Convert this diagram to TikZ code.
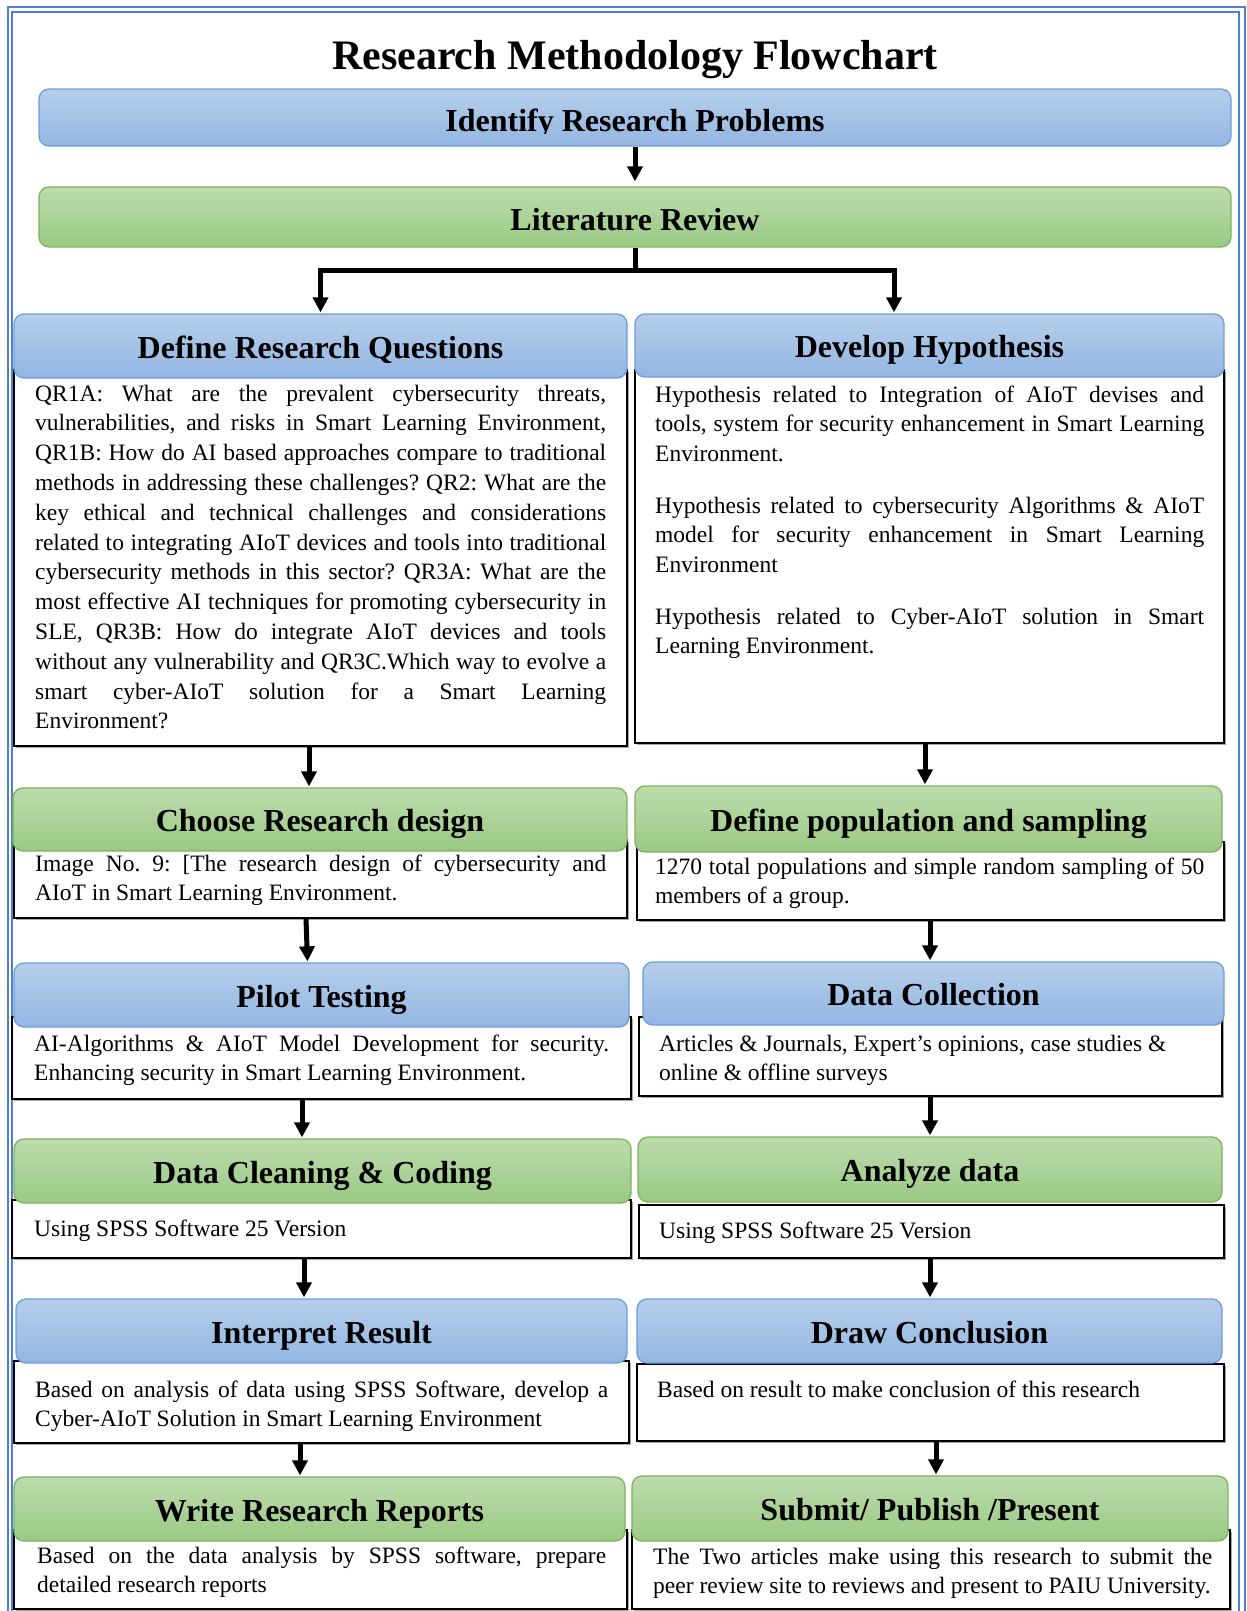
\documentclass[tikz,border=0pt]{standalone}
\usepackage{fontspec}
\setmainfont{Liberation Serif}
\usetikzlibrary{arrows.meta,shadows}

\definecolor{blueTop}{HTML}{B6CEEB}
\definecolor{blueBot}{HTML}{93B6E2}
\definecolor{blueEdge}{HTML}{6A9FDB}
\definecolor{greenTop}{HTML}{BCDCAC}
\definecolor{greenBot}{HTML}{9BC985}
\definecolor{greenEdge}{HTML}{7DB35B}
\definecolor{frameBlue}{HTML}{4F7FD0}

\frenchspacing

% one justified line / one free line of a text block
\newcommand{\JLine}[1]{\makebox[\linewidth][s]{#1}\par}
\newcommand{\LLine}[1]{\mbox{#1}\par}

\tikzset{
  hdr/.style={rounded corners=10pt, line width=1.3pt, inner sep=0pt,
    text height=24pt, text depth=0pt,
    font=\fontsize{32}{36}\selectfont\bfseries},
  hdrblue/.style={hdr, draw=blueEdge, top color=blueTop, bottom color=blueBot},
  hdrgreen/.style={hdr, draw=greenEdge, top color=greenTop, bottom color=greenBot},
  txtbox/.style={draw=black, line width=1.8pt, fill=white, inner sep=0pt,
    drop shadow={shadow xshift=2pt, shadow yshift=-2pt, fill=black!35, opacity=1}},
  body/.style={anchor=base west, inner sep=0pt, font=\fontsize{23.5}{29.8}\selectfont\frenchspacing},
  arr/.style={line width=5pt, -{Triangle[width=15pt,length=15pt]}, shorten >=1pt},
  stem/.style={line width=5pt},
}

\begin{document}
\begin{tikzpicture}[x=1pt,y=-1pt]
\useasboundingbox (0,0) rectangle (1247,1611);

% page frame
\draw[frameBlue, line width=1.5pt] (8,7) rectangle (1245,1660);
\draw[frameBlue, line width=1.2pt] (12,12) rectangle (1239,1660);

\node[font=\fontsize{42}{48}\selectfont\bfseries, anchor=base, inner sep=0pt] (title)
  at (635,70) {Research Methodology Flowchart};

% top row
\node[hdrblue, minimum width=1192pt, minimum height=57pt] (idp) at (635,117.5) {};
\begin{scope}
  \clip (39,89) rectangle (1231,133.5);
  \node[font=\fontsize{32}{36}\selectfont\bfseries, anchor=base, inner sep=0pt] (idpText)
    at (635,131.5) {Identify Research Problems};
\end{scope}
\node[hdrgreen, text height=26pt, minimum width=1192pt, minimum height=60pt] (lit) at (635,217) {Literature Review};

% text boxes (drawn below their headers)
\node[txtbox, minimum width=613pt, minimum height=376pt] (drqT) at (320.5,558) {};
\node[txtbox, minimum width=589pt, minimum height=373pt] (dhT) at (929.5,556.5) {};
\node[txtbox, minimum width=613pt, minimum height=78pt] (crdT) at (320.5,879) {};
\node[txtbox, minimum width=587pt, minimum height=78pt] (dpsT) at (930.5,881) {};
\node[txtbox, minimum width=619pt, minimum height=82pt] (ptT) at (321.5,1058) {};
\node[txtbox, minimum width=583pt, minimum height=79pt] (dcT) at (930.5,1056.5) {};
\node[txtbox, minimum width=619pt, minimum height=58pt] (dccT) at (321.5,1229) {};
\node[txtbox, minimum width=585pt, minimum height=53pt] (adT) at (931.5,1231.5) {};
\node[txtbox, minimum width=615pt, minimum height=82pt] (irT) at (321.5,1402) {};
\node[txtbox, minimum width=587pt, minimum height=77pt] (dconT) at (930.5,1402.5) {};
\node[txtbox, minimum width=613pt, minimum height=79pt] (wrrT) at (320.5,1569.5) {};
\node[txtbox, minimum width=598pt, minimum height=79pt] (sppT) at (931,1569.5) {};

% headers
\node[hdrblue, minimum width=613pt, minimum height=64pt] (drq) at (320.5,346) {Define Research Questions};
\node[hdrblue, minimum width=589pt, minimum height=63pt] (dh) at (929.5,345.5) {Develop Hypothesis};
\node[hdrgreen, minimum width=614pt, minimum height=63pt] (crd) at (320,819.5) {Choose Research design};
\node[hdrgreen, minimum width=587pt, minimum height=66pt] (dps) at (928.5,819) {Define population and sampling};
\node[hdrblue, minimum width=615pt, minimum height=64pt] (pt) at (321.5,995) {Pilot Testing};
\node[hdrblue, minimum width=581pt, minimum height=63pt] (dc) at (933.5,993.5) {Data Collection};
\node[hdrgreen, minimum width=617pt, minimum height=64pt] (dcc) at (322.5,1171) {Data Cleaning \& Coding};
\node[hdrgreen, minimum width=584pt, minimum height=65pt] (ad) at (930,1169.5) {Analyze data};
\node[hdrblue, minimum width=611pt, minimum height=64pt] (ir) at (321.5,1331) {Interpret Result};
\node[hdrblue, minimum width=585pt, minimum height=64pt] (dcon) at (929.5,1331) {Draw Conclusion};
\node[hdrgreen, minimum width=611pt, minimum height=64pt] (wrr) at (319.5,1509) {Write Research Reports};
\node[hdrgreen, minimum width=596pt, minimum height=65pt] (spp) at (930,1508.5) {Submit/ Publish /Present};

% box contents
\node[body] (drqText) at (35,401) {\parbox[t]{571pt}{%
\JLine{QR1A: What are the prevalent cybersecurity threats,}
\JLine{vulnerabilities, and risks in Smart Learning Environment,}
\JLine{QR1B: How do AI based approaches compare to traditional}
\JLine{methods in addressing these challenges? QR2: What are the}
\JLine{key ethical and technical challenges and considerations}
\JLine{related to integrating AIoT devices and tools into traditional}
\JLine{cybersecurity methods in this sector? QR3A: What are the}
\JLine{most effective AI techniques for promoting cybersecurity in}
\JLine{SLE, QR3B: How do integrate AIoT devices and tools}
\JLine{without any vulnerability and QR3C.Which way to evolve a}
\JLine{smart cyber-AIoT solution for a Smart Learning}
\LLine{Environment?}}};

\node[body] (dhText) at (655,402) {\parbox[t]{549pt}{%
\JLine{Hypothesis related to Integration of AIoT devises and}
\JLine{tools, system for security enhancement in Smart Learning}
\LLine{Environment.}
\vspace{21.6pt}
\JLine{Hypothesis related to cybersecurity Algorithms \& AIoT}
\JLine{model for security enhancement in Smart Learning}
\LLine{Environment}
\vspace{21.6pt}
\JLine{Hypothesis related to Cyber-AIoT solution in Smart}
\LLine{Learning Environment.}}};

\node[body] (crdText) at (35,871) {\parbox[t]{571pt}{%
\JLine{Image No. 9: [The research design of cybersecurity and}
\LLine{AIoT in Smart Learning Environment.}}};

\node[body] (dpsText) at (655,874) {\parbox[t]{549pt}{%
\JLine{1270 total populations and simple random sampling of 50}
\LLine{members of a group.}}};

\node[body] (ptText) at (34,1051) {\parbox[t]{575pt}{%
\JLine{AI-Algorithms \& AIoT Model Development for security.}
\LLine{Enhancing security in Smart Learning Environment.}}};

\node[body] (dcText) at (659,1051) {\parbox[t]{545pt}{%
\LLine{Articles \& Journals, Expert’s opinions, case studies \&}
\LLine{online \& offline surveys}}};

\node[body] (dccText) at (34,1236) {Using SPSS Software 25 Version};
\node[body] (adText) at (659,1238) {Using SPSS Software 25 Version};

\node[body] (irText) at (35,1397) {\parbox[t]{573pt}{%
\JLine{Based on analysis of data using SPSS Software, develop a}
\LLine{Cyber-AIoT Solution in Smart Learning Environment}}};

\node[body] (dconText) at (657,1397) {Based on result to make conclusion of this research};

\node[body] (wrrText) at (37,1563) {\parbox[t]{569pt}{%
\JLine{Based on the data analysis by SPSS software, prepare}
\LLine{detailed research reports}}};

\node[body] (sppText) at (653,1564) {\parbox[t]{559pt}{%
\JLine{The Two articles make using this research to submit the}
\LLine{peer review site to reviews and present to PAIU University.}}};

% connectors
\draw[arr, shorten >=5pt] (idp.south) -- (lit.north);
\coordinate (split) at (635,270);
\draw[stem] (lit.south) -- ([yshift=-2.5pt]split);
\draw[arr] ([xshift=-2.5pt]split) -| (drq.north);
\draw[arr] ([xshift=2.5pt]split) -| ([xshift=-35.5pt]dh.north);

\draw[arr] ([xshift=-11.5pt]drqT.south) -- ([xshift=-11pt]crd.north);
\draw[arr] ([xshift=-14.5pt]crdT.south) -- ([xshift=-14pt]pt.north);
\draw[arr] ([xshift=-19.5pt]ptT.south) -- ([xshift=-20.5pt]dcc.north);
\draw[arr] ([xshift=-17.5pt]dccT.south) -- ([xshift=-17.5pt]ir.north);
\draw[arr] ([xshift=-21.5pt]irT.south) -- ([xshift=-19.5pt]wrr.north);

\draw[arr] ([xshift=-4.5pt]dhT.south) -- ([xshift=-3.5pt]dps.north);
\draw[arr] ([xshift=-0.5pt]dpsT.south) -- ([xshift=-3.5pt]dc.north);
\draw[arr] ([xshift=-0.5pt]dcT.south) -- (ad.north);
\draw[arr] ([xshift=-1.5pt]adT.south) -- ([xshift=0.5pt]dcon.north);
\draw[arr] ([xshift=5.5pt]dconT.south) -- ([xshift=6pt]spp.north);
\end{tikzpicture}
\end{document}
